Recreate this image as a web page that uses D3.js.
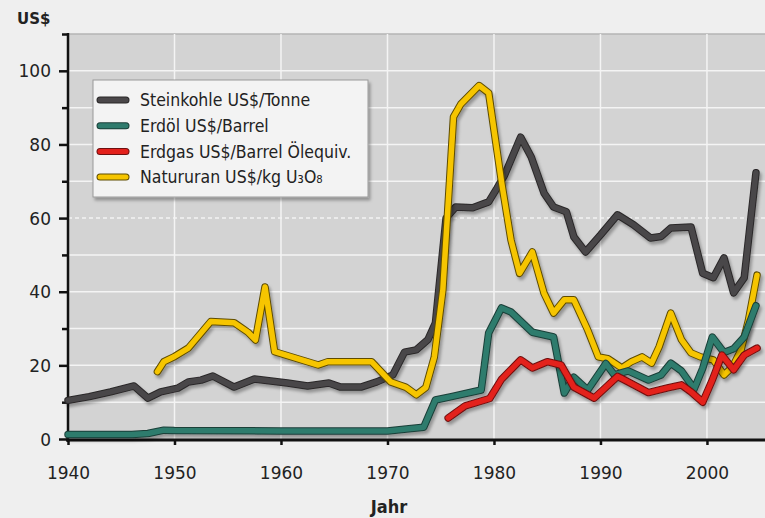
<!DOCTYPE html>
<html>
<head>
<meta charset="utf-8">
<script src="https://cdn.jsdelivr.net/npm/d3@7"></script>
<style>
  body { margin: 0; background: #efefef; }
  svg { display: block; font-family: "DejaVu Sans", Verdana, sans-serif; }
</style>
</head>
<body>
<script>
// Values: [year, US$]
var steinkohle = [[1940, 10.5], [1942, 11.5], [1944, 12.8], [1946.2, 14.4], [1947.5, 11.1], [1948.7, 12.8],
  [1950.3, 13.8], [1951.3, 15.5], [1952.5, 16], [1953.6, 17.1], [1955.6, 14.1], [1957.5, 16.3],
  [1960.6, 15.2], [1962.5, 14.4], [1964.5, 15.2], [1965.6, 14.1], [1967.5, 14.1], [1969, 15.5],
  [1970.5, 17.4], [1971.6, 23.6], [1972.7, 24.2], [1973.8, 27], [1974.5, 31.5], [1975.5, 60],
  [1976.4, 63], [1978, 62.8], [1979.5, 64.4], [1980.3, 68.2], [1981, 71.7], [1982.5, 82],
  [1983.5, 76.6], [1984.7, 66.8], [1985.6, 63], [1986.8, 61.7], [1987.5, 54.9], [1988.6, 50.8],
  [1990, 55.4], [1991.6, 60.9], [1993.1, 58.2], [1994.7, 54.6], [1995.7, 55], [1996.6, 57.3],
  [1998.5, 57.6], [1999.6, 45], [2000.6, 43.8], [2001.6, 49.2], [2002.5, 39.7], [2003.5, 43.8],
  [2004.6, 72.3]];

var erdoel = [[1940, 1.2], [1946, 1.2], [1947.5, 1.5], [1949, 2.4], [1950, 2.3], [1960, 2.2],
  [1970, 2.2], [1972, 2.8], [1973.4, 3.2], [1974.5, 10.6], [1976, 11.5], [1978.8, 13.3],
  [1979.5, 28.8], [1980.7, 35.6], [1981.6, 34.5], [1983.6, 29], [1985.6, 27.7], [1986.6, 12.5],
  [1987.5, 16.8], [1988.8, 13.3], [1990.5, 20.5], [1991.3, 17.4], [1992.6, 18.5], [1994.5, 16],
  [1995.7, 17.4], [1996.6, 20.6], [1997.6, 18.5], [1998.8, 13.6], [1999.6, 19.2], [2000.5, 27.7],
  [2001.6, 23.5], [2002.5, 24.5], [2003.5, 27.7], [2004.6, 36.2]];

var erdgas = [[1975.7, 5.7], [1977.3, 9], [1979.6, 11], [1980.7, 16.2], [1982.5, 21.5], [1983.6, 19.3],
  [1985, 21], [1986.3, 20.1], [1987.5, 14.1], [1989.4, 11.1], [1991.6, 17], [1992.6, 15.5],
  [1994.5, 12.6], [1996.3, 13.9], [1997.6, 14.7], [1998.5, 12.8], [1999.6, 10], [2000.5, 16],
  [2001.4, 22.8], [2002.5, 18.8], [2003.5, 22.8], [2004.7, 24.7]];

var natururan = [[1948.4, 18.3], [1949, 21], [1950, 22.4], [1951.3, 24.7], [1953.4, 31.9], [1955.6, 31.6],
  [1956.9, 29], [1957.6, 26.9], [1958.5, 41.3], [1959.4, 23.7], [1963.5, 20.1], [1964.4, 21],
  [1968.5, 21], [1970.3, 15.5], [1971.7, 14.1], [1972.7, 12], [1973.6, 14], [1974.4, 22.3],
  [1975.2, 40.5], [1976.2, 87.5], [1976.9, 91], [1978.6, 96], [1979.5, 94], [1980.7, 70],
  [1981.6, 54], [1982.4, 45], [1983.6, 50.8], [1984.7, 39.6], [1985.6, 34.2], [1986.6, 37.8],
  [1987.5, 37.8], [1988.8, 29.6], [1989.8, 22.3], [1990.7, 21.8], [1992, 19.3], [1992.9, 21],
  [1993.9, 22.3], [1994.8, 20.6], [1995.5, 25], [1996.6, 34.2], [1997.6, 27], [1998.5, 23.4],
  [1999.4, 22.3], [2000.6, 21.5], [2001.6, 17.4], [2002.4, 19.6], [2003.2, 24.2], [2003.9, 32.3],
  [2004.7, 44.5]];

var xTicks = [1940, 1950, 1960, 1970, 1980, 1990, 2000];
var yTicks = [0, 20, 40, 60, 80, 100];
var yMinor = [10, 30, 50, 70, 90, 110];

var series = [
  { name: "Steinkohle US$/Tonne", data: steinkohle, color: "#4a4749", edge: "#2a2829" },
  { name: "Natururan US$/kg U\u2083O\u2088", data: natururan, color: "#f6c500", edge: "#5e4c00" },
  { name: "Erdöl US$/Barrel", data: erdoel, color: "#2f7b6d", edge: "#1a3f38" },
  { name: "Erdgas US$/Barrel Ölequiv.", data: erdgas, color: "#e3201b", edge: "#6e1010" }
];
var legendOrder = [0, 2, 3, 1];

var w = 765, h = 518;
var svg = d3.select("body").append("svg").attr("width", w).attr("height", h);

var x = d3.scaleLinear().domain([1940, 2005.45]).range([68, 765]);
var y = d3.scaleLinear().domain([0, 110]).range([439, 34]);

var defs = svg.append("defs");
defs.append("filter").attr("id", "shadow")
    .attr("x", "-10%").attr("y", "-10%").attr("width", "130%").attr("height", "130%")
  .append("feDropShadow")
    .attr("dx", 2).attr("dy", 3).attr("stdDeviation", 1.8)
    .attr("flood-color", "#000").attr("flood-opacity", 0.3);

// plot background
svg.append("rect")
    .attr("x", x(1940)).attr("y", y(110))
    .attr("width", w - x(1940)).attr("height", y(0) - y(110))
    .attr("fill", "#d3d3d3");
svg.append("line")
    .attr("x1", x(1940)).attr("x2", w).attr("y1", y(110)).attr("y2", y(110))
    .attr("stroke", "#b4b4b4").attr("stroke-width", 1.5);

// grid
svg.selectAll(".hgrid")
    .data(d3.range(10, 101, 10))
    .enter().append("line")
    .attr("x1", x(1940)).attr("x2", w)
    .attr("y1", function(d) { return y(d); })
    .attr("y2", function(d) { return y(d); })
    .attr("stroke", "#f4f4f4")
    .attr("stroke-width", 1.5)
    .attr("stroke-dasharray", function(d) { return d == 60 ? "4,3" : null; });

svg.selectAll(".vgrid")
    .data(xTicks.slice(1))
    .enter().append("line")
    .attr("x1", function(d) { return x(d); })
    .attr("x2", function(d) { return x(d); })
    .attr("y1", y(110)).attr("y2", y(0))
    .attr("stroke", "#f4f4f4")
    .attr("stroke-width", 1.5);

// axes
var yAxis = svg.append("g").attr("transform", "translate(" + x(1940) + ",0)")
    .call(d3.axisLeft(y).tickValues(yTicks).tickSize(9).tickPadding(8));
var yMinorAxis = svg.append("g").attr("transform", "translate(" + x(1940) + ",0)")
    .call(d3.axisLeft(y).tickValues(yMinor).tickSize(6).tickFormat(""));
var xAxis = svg.append("g").attr("transform", "translate(0," + y(0) + ")")
    .call(d3.axisBottom(x).tickValues(xTicks).tickFormat(d3.format("d")).tickSize(6).tickPadding(22));

[yAxis, yMinorAxis, xAxis].forEach(function(a) {
  a.select(".domain").remove();
  a.selectAll(".tick line").attr("stroke", "#111").attr("stroke-width", 2.5);
  a.selectAll("text").attr("fill", "#222").style("font-size", "17px")
    .style("font-family", "'DejaVu Sans', Verdana, sans-serif");
});
yAxis.selectAll("text").attr("dy", "0.36em");

svg.append("line")
    .attr("x1", x(1940)).attr("x2", x(1940)).attr("y1", y(110) - 1).attr("y2", y(0) + 3)
    .attr("stroke", "#111").attr("stroke-width", 2.5);
svg.append("line")
    .attr("x1", x(1940) - 2).attr("x2", w).attr("y1", y(0) + 1).attr("y2", y(0) + 1)
    .attr("stroke", "#111").attr("stroke-width", 3);

// lines
var line = d3.line()
    .x(function(d) { return x(d[0]); })
    .y(function(d) { return y(d[1]); });

var lines = svg.append("g");
series.forEach(function(s) {
  var g = lines.append("g").attr("filter", "url(#shadow)");
  g.append("path").attr("d", line(s.data))
      .attr("fill", "none").attr("stroke", s.edge).attr("stroke-width", 7.5)
      .attr("stroke-linejoin", "round").attr("stroke-linecap", "round");
  g.append("path").attr("d", line(s.data))
      .attr("fill", "none").attr("stroke", s.color).attr("stroke-width", 5.5)
      .attr("stroke-linejoin", "round").attr("stroke-linecap", "round");
});

// legend
var legend = svg.append("g");
legend.append("rect")
    .attr("x", 93).attr("y", 80).attr("width", 275).attr("height", 117)
    .attr("fill", "#f3f3f3").attr("stroke", "#9a9a9a").attr("stroke-width", 1)
    .attr("filter", "url(#shadow)");

legendOrder.forEach(function(k, i) {
  var s = series[k];
  var ly = 100 + i * 25.7;
  legend.append("line").attr("x1", 100).attr("x2", 126).attr("y1", ly).attr("y2", ly)
      .attr("stroke", s.edge).attr("stroke-width", 7).attr("stroke-linecap", "round");
  legend.append("line").attr("x1", 100).attr("x2", 126).attr("y1", ly).attr("y2", ly)
      .attr("stroke", s.color).attr("stroke-width", 5).attr("stroke-linecap", "round");
  legend.append("text").attr("x", 140).attr("y", ly).attr("dy", "0.36em")
      .attr("fill", "#222").style("font-size", "17.5px")
      .style("font-family", "'DejaVu Sans Condensed', 'DejaVu Sans', sans-serif")
      .style("font-stretch", "condensed")
      .text(s.name);
});

// axis titles
svg.append("text").attr("x", 17).attr("y", 24)
    .attr("fill", "#222").style("font-size", "15px").style("font-weight", "bold").text("US$");
svg.append("text").attr("x", 389).attr("y", 513).attr("text-anchor", "middle")
    .attr("fill", "#222").style("font-size", "18px").style("font-weight", "bold")
    .style("font-family", "'DejaVu Sans Condensed', 'DejaVu Sans', sans-serif")
    .style("font-stretch", "condensed")
    .text("Jahr");
</script>
</body>
</html>
